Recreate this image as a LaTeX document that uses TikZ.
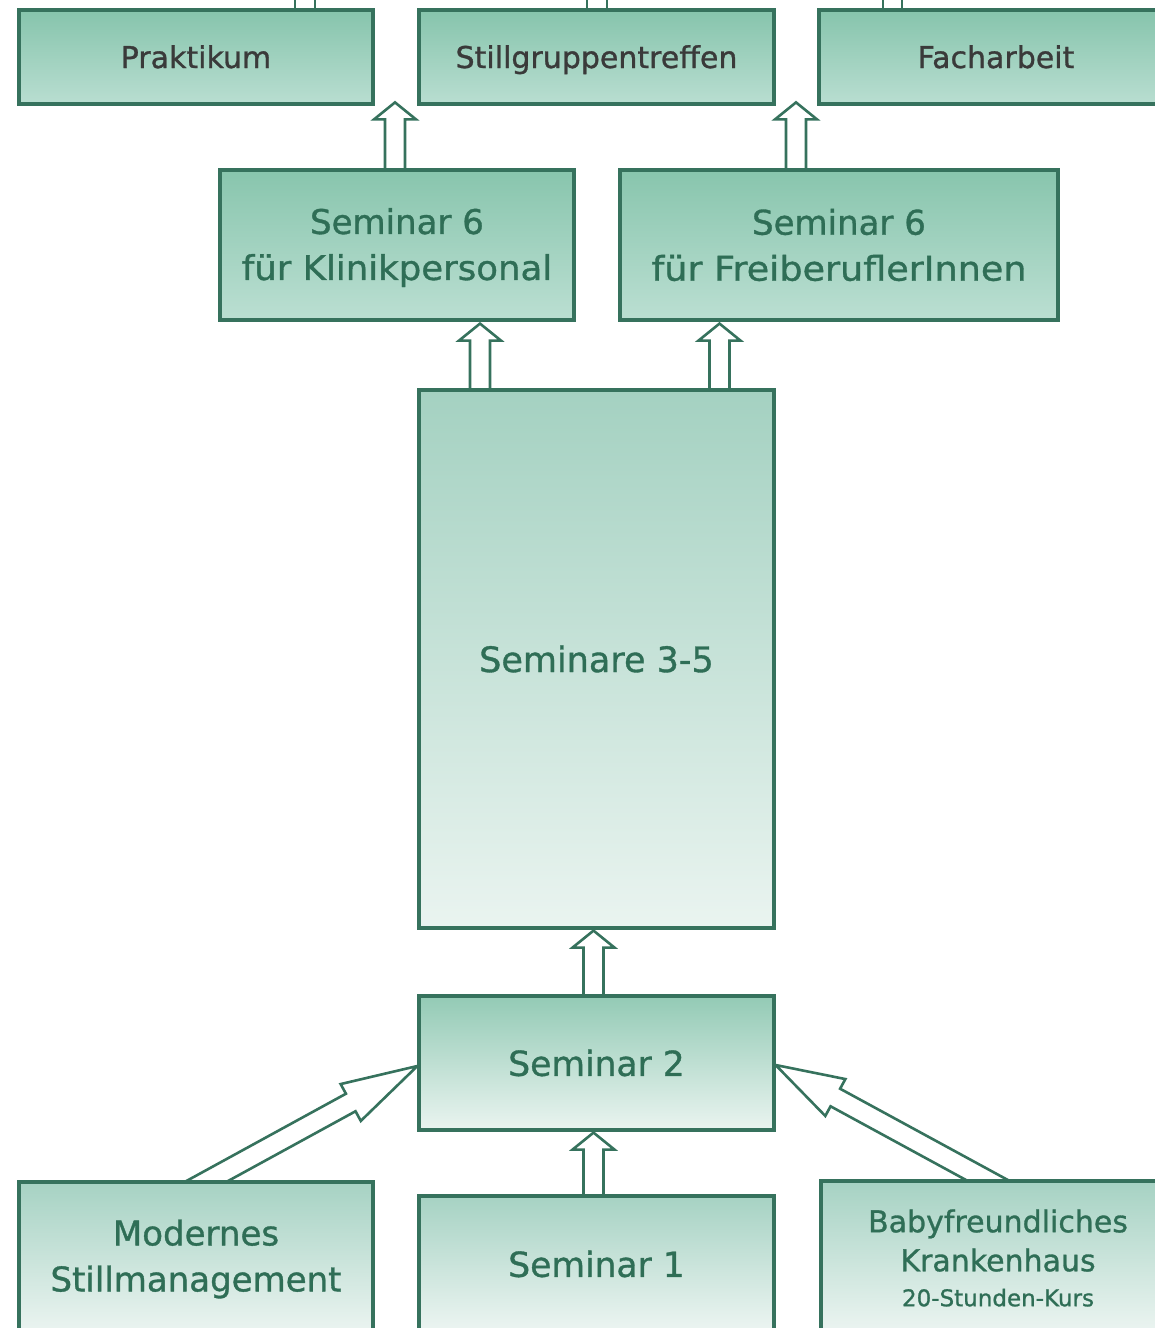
\documentclass[tikz,border=0pt]{standalone}
\usepackage{fontspec}
\setmainfont{DejaVu Sans}[UprightFeatures={FakeBold=1}]
\usetikzlibrary{calc,backgrounds}
\definecolor{bord}{HTML}{36725D}
\definecolor{tgreen}{HTML}{2F6E56}
\definecolor{tgray}{HTML}{3A3A3A}
\definecolor{HTML86C4AC}{HTML}{86C4AC}
\definecolor{HTMLB9DED1}{HTML}{B9DED1}
\definecolor{HTML88C5AD}{HTML}{88C5AD}
\definecolor{HTMLBBDFD2}{HTML}{BBDFD2}
\definecolor{topA}{HTML}{A4D1C1}
\definecolor{botA}{HTML}{EAF4F0}
\definecolor{topB}{HTML}{93CAB5}
\definecolor{topC}{HTML}{A6D2C3}
\definecolor{botC}{HTML}{EDF5F2}
\tikzset{
  box/.style={draw=bord, line width=3.2pt, inner sep=0pt, align=center, text=tgreen},
  toprow/.style={box, minimum width=354pt, minimum height=94pt, top color=HTML86C4AC, bottom color=HTMLB9DED1, text=tgray, font=\fontsize{30}{36}\selectfont, text height=22pt, text depth=0pt},
  semsix/.style={box, minimum height=150pt, top color=HTML88C5AD, bottom color=HTMLBBDFD2, font=\fontsize{34}{46}\selectfont},
  arr/.style={draw=bord, line width=2.6pt, fill=white, line join=miter},
}
\newcommand\blockarrow[3]{%
  \coordinate (ba) at #2; \coordinate (bb) at #3;
  \coordinate (bh) at ($(bb)!#1!(ba)$);
  \draw[arr] ($(ba)!10pt!90:(bb)$) -- ($(bh)!10pt!90:(bb)$) -- ($(bh)!21pt!90:(bb)$) -- (bb)
     -- ($(bh)!21pt!-90:(bb)$) -- ($(bh)!10pt!-90:(bb)$) -- ($(ba)!10pt!-90:(bb)$) -- cycle;}
\begin{document}
\begin{tikzpicture}[x=1pt,y=-1pt]
\useasboundingbox (0,0) rectangle (1155,1328);
\clip (0,0) rectangle (1155,1328);
% boxes
\node[toprow] (prak) at (196,57) {Praktikum};
\node[toprow, minimum width=355pt] (still) at (596.5,57) {Stillgruppentreffen};
\node[toprow] (fach) at (996,57) {Facharbeit};
\node[semsix, minimum width=354pt] (kl) at (397,245) {\rule{0pt}{31pt}Seminar 6\\\scalebox{1.045}[1]{für Klinikpersonal}};
\node[semsix, minimum width=438pt] (fr) at (839,245) {Seminar 6\\\scalebox{1.075}[1]{für FreiberuflerInnen}};
\node[box, minimum width=355pt, minimum height=538pt, top color=topA, bottom color=botA, font=\fontsize{35}{46}\selectfont] (s35) at (596.5,659) {Seminare 3-5};
\node[box, minimum width=355pt, minimum height=134pt, top color=topB, bottom color=botA, font=\fontsize{34.5}{46}\selectfont] (s2) at (596.5,1063) {Seminar 2};
\node[box, minimum width=354pt, minimum height=154pt, top color=topC, bottom color=botC, font=\fontsize{34}{46}\selectfont] (mod) at (196,1259) {Modernes\\Stillmanagement};
\node[box, minimum width=355pt, minimum height=136pt, top color=topC, bottom color=botC, font=\fontsize{34.5}{46}\selectfont] (s1) at (596.5,1264) {Seminar 1};
\node[box, minimum width=354pt, minimum height=154pt, top color=topC, bottom color=botC, font=\fontsize{30}{39}\selectfont] (baby) at (998,1258) {Babyfreundliches\\Krankenhaus\\[-4pt]{\fontsize{23}{28}\selectfont 20-Stunden-Kurs}};
% arrows
\begin{pgfonlayer}{background}
\coordinate (t1) at ($(kl.north)+(-2,-66)$);
\coordinate (t2) at ($(fr.north)+(-43,-66)$);
\blockarrow{17pt}{($(kl.north)+(-2,15)$)}{(t1)}
\blockarrow{17pt}{($(fr.north)+(-43,15)$)}{(t2)}
\blockarrow{17pt}{($(s35.north)+(-116.5,15)$)}{($(kl.south)+(83,2)$)}
\blockarrow{17pt}{($(s35.north)+(123,15)$)}{($(fr.south)+(-119.5,2)$)}
\blockarrow{17pt}{($(s2.north)+(-3,15)$)}{($(s35.south)+(-3,1)$)}
\blockarrow{17pt}{($(s1.north)+(-3,15)$)}{($(s2.south)+(-3,1)$)}
\blockarrow{76pt}{($(mod.north)+(-14,14.4)$)}{($(s2.west)+(0,3)$)}
\blockarrow{68pt}{($(baby.north)+(14.3,14.4)$)}{($(s2.east)+(0,2)$)}
\coordinate (o1) at ($(prak.north)+(99,-40)$);
\coordinate (o2) at ($(still.north)+(-9.5,-40)$);
\coordinate (o3) at ($(fach.north)+(-113,-40)$);
\draw[arr] ($(prak.north)+(99,10)$) rectangle ($(o1)+(20,0)$);
\draw[arr] ($(still.north)+(-9.5,10)$) rectangle ($(o2)+(20,0)$);
\draw[arr] ($(fach.north)+(-113,10)$) rectangle ($(o3)+(19,0)$);
\end{pgfonlayer}
\end{tikzpicture}
\end{document}
